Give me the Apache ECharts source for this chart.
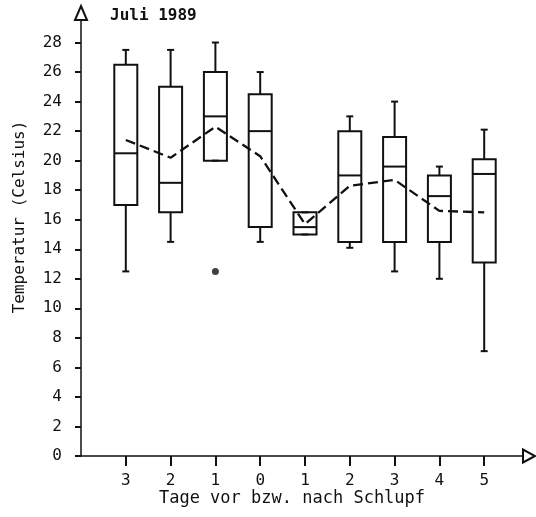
<!DOCTYPE html>
<html><head><meta charset="utf-8">
<script src="https://cdn.jsdelivr.net/npm/echarts@6/dist/echarts.min.js"></script>
<style>html,body{margin:0;padding:0;background:#fff}#c{width:536px;height:517px}</style>
</head><body><div id="c"></div>
<script>
// Categories (days before / after hatching)
const categories = ['3', '2', '1', '0', '1', '2', '3', '4', '5'];
// Box plot statistics (°C)
const whiskerLow  = [12.5, 14.5, 20.0, 14.5, 15.0, 14.1, 12.5, 12.0, 7.1];
const q1          = [17.0, 16.5, 20.0, 15.5, 15.0, 14.5, 14.5, 14.5, 13.1];
const median      = [20.5, 18.5, 23.0, 22.0, 15.5, 19.0, 19.6, 17.6, 19.1];
const q3          = [26.5, 25.0, 26.0, 24.5, 16.5, 22.0, 21.6, 19.0, 20.1];
const whiskerHigh = [27.5, 27.5, 28.0, 26.0, 16.5, 23.0, 24.0, 19.6, 22.1];
// Mean values (dashed line)
const means       = [21.4, 20.2, 22.3, 20.3, 15.7, 18.3, 18.7, 16.6, 16.5];
// Outliers
const outlierCategory = [3];
const outlierValue    = [12.5];
// Y tick labels
const yTicks = [0, 2, 4, 6, 8, 10, 12, 14, 16, 18, 20, 22, 24, 26, 28];

const positions = categories.map((_, i) => i + 1);
const boxData = positions.map((p, i) => [p, whiskerLow[i], q1[i], median[i], q3[i], whiskerHigh[i]]);
const meanData = positions.map((p, i) => [p, means[i]]);
const outlierData = outlierCategory.map((c, i) => [c, outlierValue[i]]);

const INK = '#111';
const MONO = '"DejaVu Sans Mono", "Liberation Mono", monospace';

function renderBox(params, api) {
  const x = api.value(0);
  const pLow = api.coord([x, api.value(1)]);
  const pQ1 = api.coord([x, api.value(2)]);
  const pMed = api.coord([x, api.value(3)]);
  const pQ3 = api.coord([x, api.value(4)]);
  const pHigh = api.coord([x, api.value(5)]);
  const halfW = 11.5, capW = 3.5;
  const cx = pLow[0];
  const st = { stroke: INK, lineWidth: 2, fill: 'none' };
  return {
    type: 'group',
    children: [
      { type: 'line', shape: { x1: cx, y1: pHigh[1], x2: cx, y2: pQ3[1] }, style: st },
      { type: 'line', shape: { x1: cx - capW, y1: pHigh[1], x2: cx + capW, y2: pHigh[1] }, style: st },
      { type: 'line', shape: { x1: cx, y1: pQ1[1], x2: cx, y2: pLow[1] }, style: st },
      { type: 'line', shape: { x1: cx - capW, y1: pLow[1], x2: cx + capW, y2: pLow[1] }, style: st },
      { type: 'rect', shape: { x: cx - halfW, y: pQ3[1], width: 2 * halfW, height: pQ1[1] - pQ3[1] }, style: st },
      { type: 'line', shape: { x1: cx - halfW, y1: pMed[1], x2: cx + halfW, y2: pMed[1] }, style: st }
    ]
  };
}

const chart = echarts.init(document.getElementById('c'), null, { renderer: 'canvas' });
chart.setOption({
  animation: false,
  backgroundColor: '#fff',
  grid: { left: 81, right: 7, top: 13, bottom: 61, containLabel: false },
  xAxis: {
    type: 'value', min: 0, max: 10, interval: 1,
    axisLine: { show: true, lineStyle: { color: INK, width: 1.5 }, symbol: ['none', 'emptyTriangle'], symbolSize: [13, 12] },
    axisTick: { show: true, customValues: positions, length: 10, lineStyle: { color: INK, width: 2 } },
    axisLabel: { customValues: positions, formatter: v => categories[v - 1], margin: 17, color: INK, fontFamily: MONO, fontSize: 16 },
    splitLine: { show: false }
  },
  yAxis: {
    type: 'value', min: 0, max: 30, interval: 2,
    axisLine: { show: true, lineStyle: { color: INK, width: 1.5 }, symbol: ['none', 'emptyTriangle'], symbolSize: [12, 14] },
    axisTick: { show: true, customValues: yTicks, length: 6, lineStyle: { color: INK, width: 2 } },
    axisLabel: { customValues: yTicks, margin: 19, color: INK, fontFamily: MONO, fontSize: 16 },
    splitLine: { show: false }
  },
  graphic: [
    { type: 'text', left: 110, top: 8, style: { text: 'Juli 1989', fill: INK, font: 'bold 16px ' + MONO } },
    { type: 'text', x: 292, y: 499, style: { text: 'Tage vor bzw. nach Schlupf', fill: INK, font: '17px ' + MONO, align: 'center', verticalAlign: 'middle' } },
    { type: 'text', x: 20, y: 217, rotation: Math.PI / 2, style: { text: 'Temperatur (Celsius)', fill: INK, font: '16px ' + MONO, align: 'center', verticalAlign: 'middle' } }
  ],
  series: [
    { type: 'custom', renderItem: renderBox, data: boxData, encode: { x: 0, y: [1, 2, 3, 4, 5] }, z: 2 },
    { type: 'line', data: meanData, symbol: 'none', lineStyle: { color: INK, width: 2.3, type: [10, 5] }, z: 3 },
    { type: 'scatter', data: outlierData, symbol: 'circle', symbolSize: 7, itemStyle: { color: INK }, z: 4 }
  ]
});
</script></body></html>
